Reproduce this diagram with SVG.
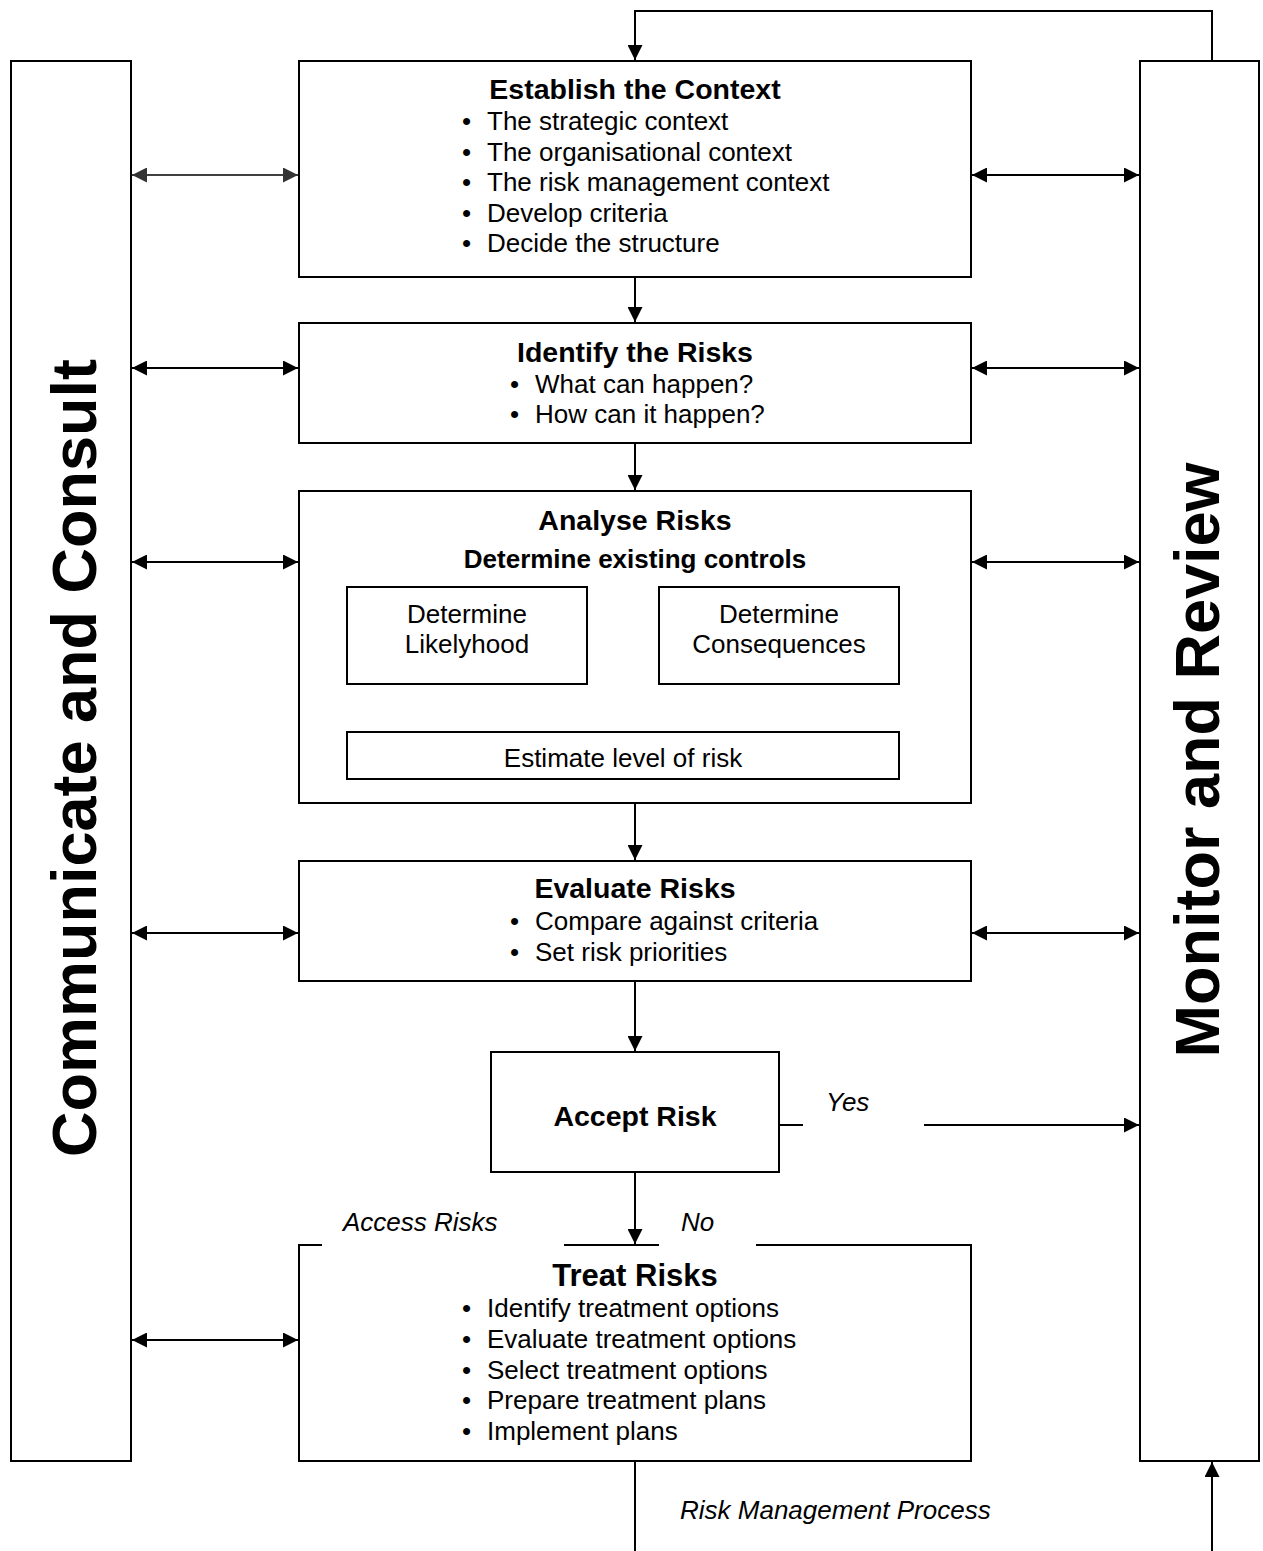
<svg xmlns="http://www.w3.org/2000/svg" width="1263" height="1551" viewBox="0 0 1263 1551">
<style>
  .box { fill: #ffffff; stroke: #000000; stroke-width: 2; }
  .t { font-family: "Liberation Sans", Arial, sans-serif; fill: #000000; }
  .title { font-size: 28.5px; font-weight: bold; text-anchor: middle; }
  .sub { font-size: 26px; font-weight: bold; text-anchor: middle; }
  .body { font-size: 26px; }
  .mid { text-anchor: middle; }
  .lbl { font-size: 26px; font-style: italic; }
  .side { font-size: 63px; font-weight: bold; text-anchor: middle; }
  .conn { fill: none; stroke: #000000; stroke-width: 2; }
  .mask { fill: #ffffff; stroke: none; }
</style>
<defs>
  <marker id="ahg" viewBox="0 0 15 15" refX="15" refY="7.5" markerWidth="15" markerHeight="15" markerUnits="userSpaceOnUse" orient="auto-start-reverse">
    <path d="M0,0 L15,7.5 L0,15 Z" fill="#333333"/>
  </marker>
  <marker id="ahb" viewBox="0 0 15 15" refX="15" refY="7.5" markerWidth="15" markerHeight="15" markerUnits="userSpaceOnUse" orient="auto-start-reverse">
    <path d="M0,0 L15,7.5 L0,15 Z" fill="#000000"/>
  </marker>
</defs>
<rect width="1263" height="1551" fill="#ffffff"/>

<g id="connectors">
  <line x1="132" y1="175" x2="298" y2="175" style="stroke:#404040;stroke-width:2" marker-start="url(#ahg)" marker-end="url(#ahg)"/>
  <line class="conn" x1="132" y1="368" x2="298" y2="368" marker-start="url(#ahb)" marker-end="url(#ahb)"/>
  <line class="conn" x1="132" y1="562" x2="298" y2="562" marker-start="url(#ahb)" marker-end="url(#ahb)"/>
  <line class="conn" x1="132" y1="933" x2="298" y2="933" marker-start="url(#ahb)" marker-end="url(#ahb)"/>
  <line class="conn" x1="132" y1="1340" x2="298" y2="1340" marker-start="url(#ahb)" marker-end="url(#ahb)"/>
  <line class="conn" x1="972" y1="175" x2="1139" y2="175" marker-start="url(#ahb)" marker-end="url(#ahb)"/>
  <line class="conn" x1="972" y1="368" x2="1139" y2="368" marker-start="url(#ahb)" marker-end="url(#ahb)"/>
  <line class="conn" x1="972" y1="562" x2="1139" y2="562" marker-start="url(#ahb)" marker-end="url(#ahb)"/>
  <line class="conn" x1="972" y1="933" x2="1139" y2="933" marker-start="url(#ahb)" marker-end="url(#ahb)"/>
  <line class="conn" x1="635" y1="277" x2="635" y2="322" marker-end="url(#ahb)"/>
  <line class="conn" x1="635" y1="443" x2="635" y2="490" marker-end="url(#ahb)"/>
  <line class="conn" x1="635" y1="803" x2="635" y2="860" marker-end="url(#ahb)"/>
  <line class="conn" x1="635" y1="981" x2="635" y2="1051" marker-end="url(#ahb)"/>
  <line class="conn" x1="635" y1="1172" x2="635" y2="1244" marker-end="url(#ahb)"/>
  <line class="conn" x1="779" y1="684" x2="779" y2="731" marker-end="url(#ahb)"/>
  <line class="conn" x1="779" y1="1125" x2="1139" y2="1125" marker-end="url(#ahb)"/>
  <path class="conn" d="M1212,61 V11 H635 V60" marker-end="url(#ahb)"/>
  <line class="conn" x1="635" y1="1461" x2="635" y2="1551"/>
  <line class="conn" x1="1212" y1="1551" x2="1212" y2="1462" marker-end="url(#ahb)"/>
</g>

<g id="communicate">
  <rect class="box" x="11" y="61" width="120" height="1400"/>
  <text class="t side" transform="translate(96,758) rotate(-90)">Communicate and Consult</text>
</g>

<g id="monitor">
  <rect class="box" x="1140" y="61" width="119" height="1400"/>
  <text class="t side" transform="translate(1219,760) rotate(-90)">Monitor and Review</text>
</g>

<g id="establish">
  <rect class="box" x="299" y="61" width="672" height="216"/>
  <text class="t title" x="635" y="99">Establish the Context</text>
  <g class="t body">
    <text x="462" y="130">•</text><text x="487" y="130">The strategic context</text>
    <text x="462" y="161">•</text><text x="487" y="161">The organisational context</text>
    <text x="462" y="191">•</text><text x="487" y="191">The risk management context</text>
    <text x="462" y="222">•</text><text x="487" y="222">Develop criteria</text>
    <text x="462" y="252">•</text><text x="487" y="252">Decide the structure</text>
  </g>
</g>

<g id="identify">
  <rect class="box" x="299" y="323" width="672" height="120"/>
  <text class="t title" x="635" y="362">Identify the Risks</text>
  <g class="t body">
    <text x="510" y="393">•</text><text x="535" y="393">What can happen?</text>
    <text x="510" y="423">•</text><text x="535" y="423">How can it happen?</text>
  </g>
</g>

<g id="analyse">
  <rect class="box" x="299" y="491" width="672" height="312"/>
  <text class="t title" x="635" y="530">Analyse Risks</text>
  <text class="t sub" x="635" y="568">Determine existing controls</text>
</g>

<g id="likelihood">
  <rect class="box" x="347" y="587" width="240" height="97"/>
  <text class="t body mid" x="467" y="623">Determine</text>
  <text class="t body mid" x="467" y="653">Likelyhood</text>
</g>

<g id="consequences">
  <rect class="box" x="659" y="587" width="240" height="97"/>
  <text class="t body mid" x="779" y="623">Determine</text>
  <text class="t body mid" x="779" y="653">Consequences</text>
</g>

<g id="estimate">
  <rect class="box" x="347" y="732" width="552" height="47"/>
  <text class="t body mid" x="623" y="767">Estimate level of risk</text>
</g>

<g id="evaluate">
  <rect class="box" x="299" y="861" width="672" height="120"/>
  <text class="t title" x="635" y="898">Evaluate Risks</text>
  <g class="t body">
    <text x="510" y="930">•</text><text x="535" y="930">Compare against criteria</text>
    <text x="510" y="961">•</text><text x="535" y="961">Set risk priorities</text>
  </g>
</g>

<g id="accept">
  <rect class="box" x="491" y="1052" width="288" height="120"/>
  <text class="t title" x="635" y="1126">Accept Risk</text>
</g>

<g id="treat">
  <rect class="box" x="299" y="1245" width="672" height="216"/>
  <text class="t title" x="635" y="1286" style="font-size:31px">Treat Risks</text>
  <g class="t body">
    <text x="462" y="1317">•</text><text x="487" y="1317">Identify treatment options</text>
    <text x="462" y="1348">•</text><text x="487" y="1348">Evaluate treatment options</text>
    <text x="462" y="1379">•</text><text x="487" y="1379">Select treatment options</text>
    <text x="462" y="1409">•</text><text x="487" y="1409">Prepare treatment plans</text>
    <text x="462" y="1440">•</text><text x="487" y="1440">Implement plans</text>
  </g>
</g>

<g id="labels">
  <rect class="mask" x="803" y="1086" width="121" height="40.5"/>
  <text class="t lbl" x="826" y="1111">Yes</text>
  <rect class="mask" x="322" y="1200" width="242" height="46.5"/>
  <text class="t lbl" x="343" y="1231">Access Risks</text>
  <rect class="mask" x="659" y="1200" width="97" height="46.5"/>
  <text class="t lbl" x="681" y="1231">No</text>
  <text class="t lbl" x="680" y="1519">Risk Management Process</text>
</g>
</svg>
